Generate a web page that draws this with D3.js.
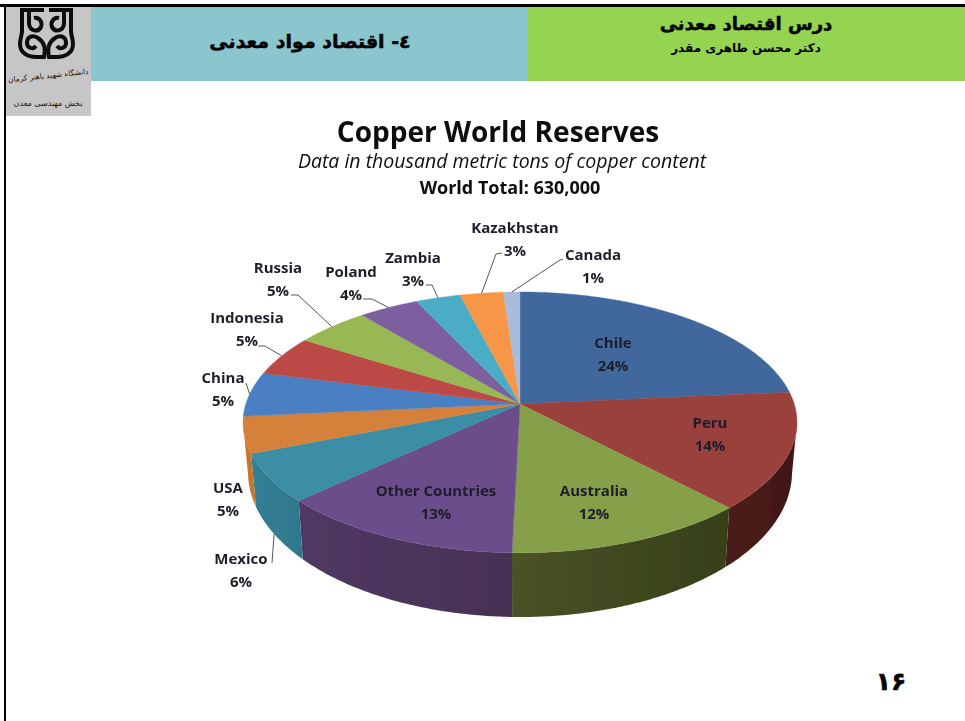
<!DOCTYPE html>
<html lang="en"><head><meta charset="utf-8">
<style>html,body{margin:0;padding:0;background:#fff}svg{display:block}</style>
<script src="https://cdn.jsdelivr.net/npm/d3@7/dist/d3.min.js"></script>
</head><body><svg id="c" width="965" height="721"></svg>
<script>
// ---- data ----
const countries = ["Chile","Peru","Australia","Other Countries","Mexico","USA","China","Indonesia","Russia","Poland","Zambia","Kazakhstan","Canada"];
const shares = [23.5,14.5,12.4,12.6,6,4.5,5.5,5,5,4,3,2.9,1.1];
const percentLabels = ["24%","14%","12%","13%","6%","5%","5%","5%","5%","4%","3%","3%","1%"];
const titleLines = ["Copper World Reserves","Data in thousand metric tons of copper content","World Total: 630,000"];
const headerRight = ["درس اقتصاد معدنی","دکتر محسن طاهری مقدر"];
const headerLeft = "٤- اقتصاد مواد معدنی";
const logoLines = ["دانشگاه شهید باهنر کرمان","بخش مهندسی معدن"];
const pageNumber = "۱۶";

// ---- style and layout ----
const topColors = ["#40689d","#9a3f3c","#86a04a","#6c4e8b","#3a8ea5","#d5813b","#4a80c4","#bd4a47","#98b855","#7d5fa0","#4bacc6","#f79646","#a9bcdc"];
const sideColors = {Peru:["#4c1d1a","#3f1714"],Australia:["#4a5226","#363f19"],"Other Countries":["#503863","#463254"],Mexico:["#347f94","#2f788c"],USA:["#c8742c","#c8742c"]};
const cx=520, ay=404, k=-0.141, R=274.2, S=127.8;       // top face perspective
const bot={rx:272, ry:145, cy:472}, topRx=277;          // bottom rim ellipse
const silhouette=Math.acos(-0.141);                      // angle of the widest rim point
const labelFont="'Open Sans', Lato, sans-serif";
// label centre x, first baseline, optional leader elbow points
const layout={
 "Chile":{x:613,y:348},"Peru":{x:710,y:428},"Australia":{x:594,y:496},"Other Countries":{x:436,y:496},
 "Mexico":{x:241,y:564,lead:[[272,563]],fromBottom:true},"USA":{x:228,y:493},
 "China":{x:223,y:383,lead:[[246,383]]},"Indonesia":{x:247,y:323,lead:[[265,346],[258,346]]},
 "Russia":{x:278,y:273,lead:[[298,295],[291,295]]},"Poland":{x:351,y:277,lead:[[372,299],[363,299]]},
 "Zambia":{x:413,y:263,lead:[[432,285],[426,285]]},"Kazakhstan":{x:515,y:233,lead:[[496,254],[502,253]]},
 "Canada":{x:593,y:260,lead:[[560,260],[563,259]]}};

const svg=d3.select("#c");
const defs=svg.append("defs");
defs.append("filter").attr("id","soft").append("feGaussianBlur").attr("stdDeviation",0.45);

// ---- page chrome ----
svg.append("rect").attr("x",91).attr("y",7).attr("width",437).attr("height",74).attr("fill","#8bc6cf");
svg.append("rect").attr("x",528).attr("y",7).attr("width",437).attr("height",74).attr("fill","#94d451");
svg.append("rect").attr("x",6).attr("y",7).attr("width",85).attr("height",109).attr("fill","#c6c6c6");
svg.append("rect").attr("x",0).attr("y",4).attr("width",965).attr("height",3).attr("fill","#000");
svg.append("rect").attr("x",4).attr("y",4).attr("width",2).attr("height",717).attr("fill","#000");

// logo emblem
const logo=svg.append("g").attr("fill","none").attr("stroke","#111").attr("stroke-width",4).attr("filter","url(#soft)");
const half="M44 10 H22 V31 C22 36 20 38 20 44 C20 53 28 57 36 57 H44 C46 49 44 42 38 38 C33 35 27 36 27 43 C27 48 33 50 36 46 M29 11 V24 C30 31 38 33 41 27 C43 22 39 17 34 18";
logo.append("path").attr("d",half);
logo.append("path").attr("d",half).attr("transform","translate(93,0) scale(-1,1)");
const logoText=svg.append("g").attr("text-anchor","middle").attr("direction","rtl").attr("font-family","'DejaVu Sans'").attr("fill","#111");
logoText.append("text").attr("x",48.5).attr("y",78).attr("font-size",7.4).attr("transform","rotate(-6 48.5 78)").text(logoLines[0]);
logoText.append("text").attr("x",48).attr("y",106).attr("font-size",8).text(logoLines[1]);

// header text
const head=svg.append("g").attr("text-anchor","middle").attr("direction","rtl").attr("font-family","'DejaVu Sans'").attr("font-weight","bold").attr("fill","#000");
head.append("text").attr("x",746).attr("y",30).attr("font-size",18).attr("stroke","#000").attr("stroke-width",0.5).text(headerRight[0]);
head.append("text").attr("x",746).attr("y",52).attr("font-size",12).text(headerRight[1]);
head.append("text").attr("x",310).attr("y",48).attr("font-size",19).attr("stroke","#000").attr("stroke-width",0.5).text(headerLeft);
head.append("text").attr("x",891).attr("y",690).attr("font-size",25).attr("stroke","#000").attr("stroke-width",0.6).text(pageNumber);

// ---- pie geometry ----
const pie=d3.pie().sort(null).value(d=>d)(shares);
function rim(t){const u=Math.sin(t),v=-Math.cos(t),d=1+k*v;return [cx+R*u/d,ay+S*v/d];}
function under(p){const x=cx+(p[0]-cx)*bot.rx/topRx,q=(x-cx)/bot.rx;return [x,bot.cy+bot.ry*Math.sqrt(Math.max(0,1-q*q))];}
function sample(a,b){const n=Math.max(4,Math.ceil((b-a)/0.01));return d3.range(n+1).map(i=>rim(a+(b-a)*i/n));}
const line=d3.line();
const chart=svg.append("g").attr("filter","url(#soft)");

// side walls: only the front part of the rim is visible
const frontA=silhouette, frontB=2*Math.PI-silhouette;
countries.forEach((name,i)=>{
  const a=Math.max(pie[i].startAngle,frontA), b=Math.min(pie[i].endAngle,frontB);
  if(b<=a) return;
  const top=sample(a,b), pts=top.concat(top.map(under).reverse());
  const cols=sideColors[name]||[topColors[i],topColors[i]];
  const gid="side"+i, xs=d3.extent(top,p=>p[0]);
  const g=defs.append("linearGradient").attr("id",gid).attr("gradientUnits","userSpaceOnUse").attr("x1",xs[0]).attr("x2",xs[1]).attr("y1",0).attr("y2",0);
  g.append("stop").attr("offset",0).attr("stop-color",cols[0]);
  g.append("stop").attr("offset",1).attr("stop-color",cols[1]);
  chart.append("path").attr("d",line(pts)+"Z").attr("fill",`url(#${gid})`);
});
// top face slices
countries.forEach((name,i)=>{
  const pts=[[cx,ay]].concat(sample(pie[i].startAngle,pie[i].endAngle));
  chart.append("path").attr("d",line(pts)+"Z").attr("fill",topColors[i]).attr("stroke",topColors[i]).attr("stroke-width",0.4);
});
// leaders
countries.forEach((name,i)=>{
  const L=layout[name]; if(!L.lead) return;
  const mid=(pie[i].startAngle+pie[i].endAngle)/2;
  const start=L.fromBottom?under(rim(mid)):rim(mid);
  chart.append("path").attr("d",line([start].concat(L.lead))).attr("fill","none").attr("stroke","#555").attr("stroke-width",1);
});
// ---- text ----
const labels=svg.append("g").attr("text-anchor","middle").attr("font-family",labelFont).attr("font-weight","bold").attr("font-size",15).attr("fill","#1f1f2a").attr("filter","url(#soft)");
countries.forEach((name,i)=>{
  const L=layout[name];
  labels.append("text").attr("x",L.x).attr("y",L.y).text(name);
  labels.append("text").attr("x",L.x).attr("y",L.y+23).text(percentLabels[i]);
});
const title=svg.append("g").attr("text-anchor","middle").attr("font-family",labelFont).attr("fill","#111").attr("filter","url(#soft)");
title.append("text").attr("x",498).attr("y",142).attr("font-size",28).attr("font-weight","bold").text(titleLines[0]);
title.append("text").attr("x",502).attr("y",168).attr("font-size",19.5).attr("font-style","italic").text(titleLines[1]);
title.append("text").attr("x",510).attr("y",194).attr("font-size",18).attr("font-weight","bold").text(titleLines[2]);
</script></body></html>
